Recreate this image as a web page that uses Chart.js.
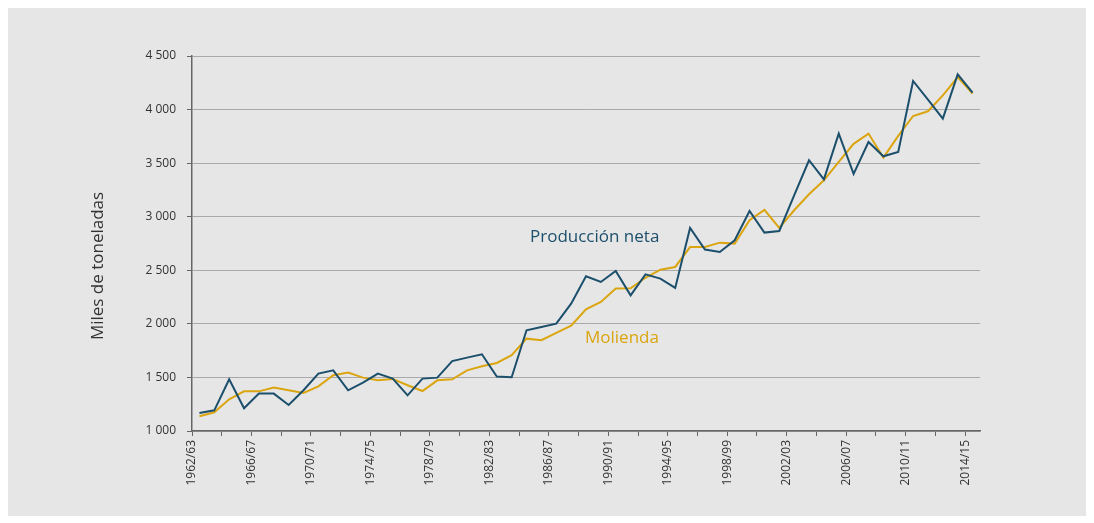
<!DOCTYPE html>
<html lang="es">
<head>
<meta charset="utf-8">
<title>Producción neta y molienda</title>
<script src="https://cdn.jsdelivr.net/npm/chart.js@4"></script>
<style>
  html, body { margin: 0; padding: 0; background: #ffffff; }
  #panel { position: absolute; left: 8px; top: 8px; width: 1078px; height: 508px; background: #e6e6e6; }
  #chart { position: absolute; left: 0; top: 0; }
</style>
</head>
<body>
<div id="panel"></div>
<canvas id="chart" width="1094" height="523"></canvas>
<script>
  const seasons = [
    '1962/63', '1963/64', '1964/65', '1965/66', '1966/67', '1967/68', '1968/69', '1969/70',
    '1970/71', '1971/72', '1972/73', '1973/74', '1974/75', '1975/76', '1976/77', '1977/78',
    '1978/79', '1979/80', '1980/81', '1981/82', '1982/83', '1983/84', '1984/85', '1985/86',
    '1986/87', '1987/88', '1988/89', '1989/90', '1990/91', '1991/92', '1992/93', '1993/94',
    '1994/95', '1995/96', '1996/97', '1997/98', '1998/99', '1999/00', '2000/01', '2001/02',
    '2002/03', '2003/04', '2004/05', '2005/06', '2006/07', '2007/08', '2008/09', '2009/10',
    '2010/11', '2011/12', '2012/13', '2013/14', '2014/15'
  ];

  // miles de toneladas
  const produccionNeta = [
    1168, 1193, 1482, 1212, 1349, 1349, 1243, 1380,
    1536, 1566, 1380, 1452, 1536, 1489, 1333, 1489,
    1498, 1653, 1685, 1716, 1508, 1501, 1940, 1971,
    2002, 2189, 2444, 2391, 2493, 2266, 2462, 2422,
    2335, 2895, 2693, 2671, 2780, 3053, 2852, 2867,
    3200, 3527, 3349, 3776, 3400, 3697, 3564, 3604,
    4267, 4093, 3916, 4329, 4158
  ];
  const molienda = [
    1137, 1175, 1296, 1370, 1370, 1405, 1380, 1355,
    1417, 1520, 1545, 1498, 1473, 1486, 1427, 1373,
    1473, 1482, 1566, 1604, 1635, 1707, 1862, 1847,
    1915, 1984, 2136, 2204, 2329, 2332, 2430, 2506,
    2531, 2717, 2717, 2758, 2749, 2967, 3063, 2896,
    3060, 3210, 3340, 3511, 3680, 3776, 3552, 3755,
    3940, 3984, 4133, 4304, 4149
  ];

  const yTicks = [1000, 1500, 2000, 2500, 3000, 3500, 4000, 4500];

  const colorProd = '#1c4f6c';
  const colorMol = '#dba510';
  const axisColor = '#666666';
  const textFont = '"Open Sans", "Noto Sans", sans-serif';

  function fmt(v) {
    const miles = Math.floor(v / 1000);
    const resto = String(v % 1000).padStart(3, '0');
    return miles > 0 ? miles + ' ' + resto : String(v);
  }

  // series names written on the plot, plus the y title
  const textPlugin = {
    id: 'textos',
    afterDraw(chart) {
      const c = chart.ctx;
      c.save();
      c.textBaseline = 'middle';
      c.textAlign = 'left';
      c.font = '17px ' + textFont;
      c.fillStyle = colorProd;
      c.fillText('Producción neta', 530, 237);
      c.fillStyle = colorMol;
      c.fillText('Molienda', 585, 338);

      c.translate(98, 266);
      c.rotate(-Math.PI / 2);
      c.textAlign = 'center';
      c.font = '17px ' + textFont;
      c.fillStyle = '#333333';
      c.fillText('Miles de toneladas', 0, 0);
      c.restore();
    }
  };

  const ctx = document.getElementById('chart').getContext('2d');
  const chart = new Chart(ctx, {
    type: 'line',
    data: {
      labels: seasons,
      datasets: [{
        label: 'Producción neta',
        data: produccionNeta,
        borderColor: colorProd,
        borderWidth: 2,
        pointRadius: 0,
        tension: 0
      }, {
        label: 'Molienda',
        data: molienda,
        borderColor: colorMol,
        borderWidth: 2,
        pointRadius: 0,
        tension: 0
      }]
    },
    options: {
      responsive: false,
      animation: false,
      layout: {
        padding: { left: 85, right: 114, top: 56, bottom: 0 }
      },
      plugins: {
        legend: { display: false },
        tooltip: { enabled: false }
      },
      scales: {
        x: {
          type: 'category',
          offset: true,
          afterFit: function (scale) { scale.height = 92; },
          grid: {
            offset: true,
            drawOnChartArea: false,
            tickLength: 5,
            tickColor: function (c) {
              return (c.index !== undefined && c.index % 2 === 0) ? axisColor : 'rgba(0,0,0,0)';
            }
          },
          border: { color: axisColor, width: 1.5 },
          ticks: {
            autoSkip: false,
            minRotation: 90,
            maxRotation: 90,
            padding: 4,
            labelOffset: -7.4,
            color: '#333333',
            font: { family: textFont, size: 12 },
            callback: function (val, i) {
              return i % 4 === 0 ? seasons[i] : '';
            }
          }
        },
        y: {
          min: 1000,
          max: 4500,
          afterFit: function (scale) { scale.width = 107; },
          afterBuildTicks: function (scale) {
            scale.ticks = yTicks.map(v => ({ value: v }));
          },
          grid: {
            color: '#a9a9a9',
            lineWidth: 1,
            tickLength: 5,
            tickColor: axisColor
          },
          border: { color: axisColor, width: 1.5 },
          ticks: {
            padding: 11,
            color: '#333333',
            font: { family: textFont, size: 12 },
            callback: function (v) { return fmt(v); }
          }
        }
      }
    },
    plugins: [textPlugin]
  });
</script>
</body>
</html>
